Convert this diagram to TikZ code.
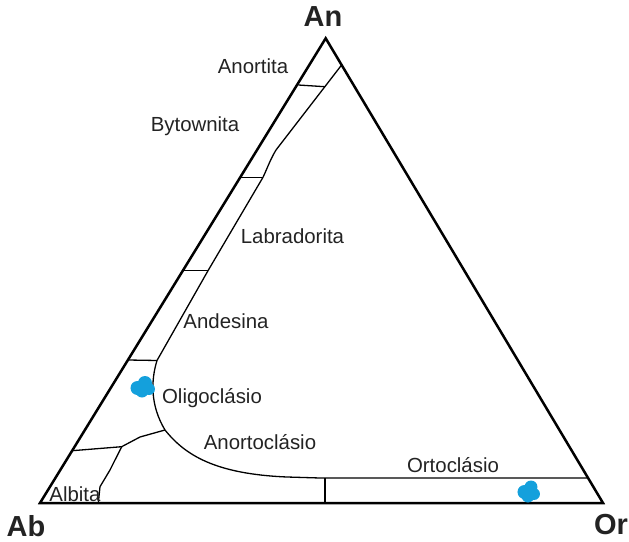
\documentclass[tikz,border=0pt]{standalone}
\usepackage{fontspec}
\setmainfont{Liberation Sans}
\usepackage{tikz}
\definecolor{ponto}{RGB}{20,160,220}
\definecolor{texto}{RGB}{35,35,35}
\tikzset{
  campo/.style={font=\fontsize{10.2}{12}\selectfont,text=texto},
  vertice/.style={font=\fontsize{14.5}{17}\selectfont\bfseries,text=texto},
  limite/.style={line width=0.65pt},
}
\begin{document}
\begin{tikzpicture}[x=0.5pt,y=-0.5pt]
			\useasboundingbox (0,0) rectangle (629,542);
			\coordinate(Ab) at(40,503);
			\coordinate(Or) at(603,503);
			\coordinate(An) at(325.7,38.3);
			\draw[line width=1.25pt,line join=miter](Ab) -- (Or) -- (An) --cycle;
			\node[vertice] at(323,17){An};
			\node[vertice] at(26,526){Ab};
			\node[vertice] at(611,525){Or};
			
			% limite do campo dos plagioclasios
			\draw[limite](341.6,65) -- (276,150)
			  .. controls (270,160) and (267,169) .. (263,177.3)
			  -- (208,270.7) -- (157,360.5)
			  .. controls (151,380) and (150,405) .. (165,430)
			  .. controls (185,455) and (215,474) .. (287,477)
			  -- (320,478) -- (588,478);
			\draw[limite](298.3,85) -- (325,86.7);
			\draw[limite](240.5,177.3) -- (262.7,177.3);
			\draw[limite](183,270.7) -- (208,270.7);
			\draw[limite](128,360) -- (157,360.5);
			\draw[limite](165,430) -- (140,437) -- (121.7,446.7) -- (72.2,450.7);
			\draw[limite](121.7,446.7) -- (110,470) -- (100,486.7) -- (98.3,503);
			\draw[limite](325,478) -- (325,503);
			
			\node[campo] at(253,66){Anortita};
			\node[campo] at(195,126.5){Bytownita};
			\node[campo] at(292.5,236){Labradorita};
			\node[campo] at(226,321){Andesina};
			\node[campo] at(212,398){Oligoclásio};
			\node[campo] at(260,442){Anortoclásio};
			\node[campo] at(453,465){Ortoclásio};
			\node[campo] at(75,494){Albita};
			
			\fill[ponto](137.5,388) circle (7) (145,383) circle (7) (149,389) circle (6) (142,391) circle (6.5);
			\fill[ponto](524.5,492) circle (7) (531,487) circle (6.5) (534,494) circle (6) (528,496) circle (6.5);
		\end{tikzpicture}
\end{document}
